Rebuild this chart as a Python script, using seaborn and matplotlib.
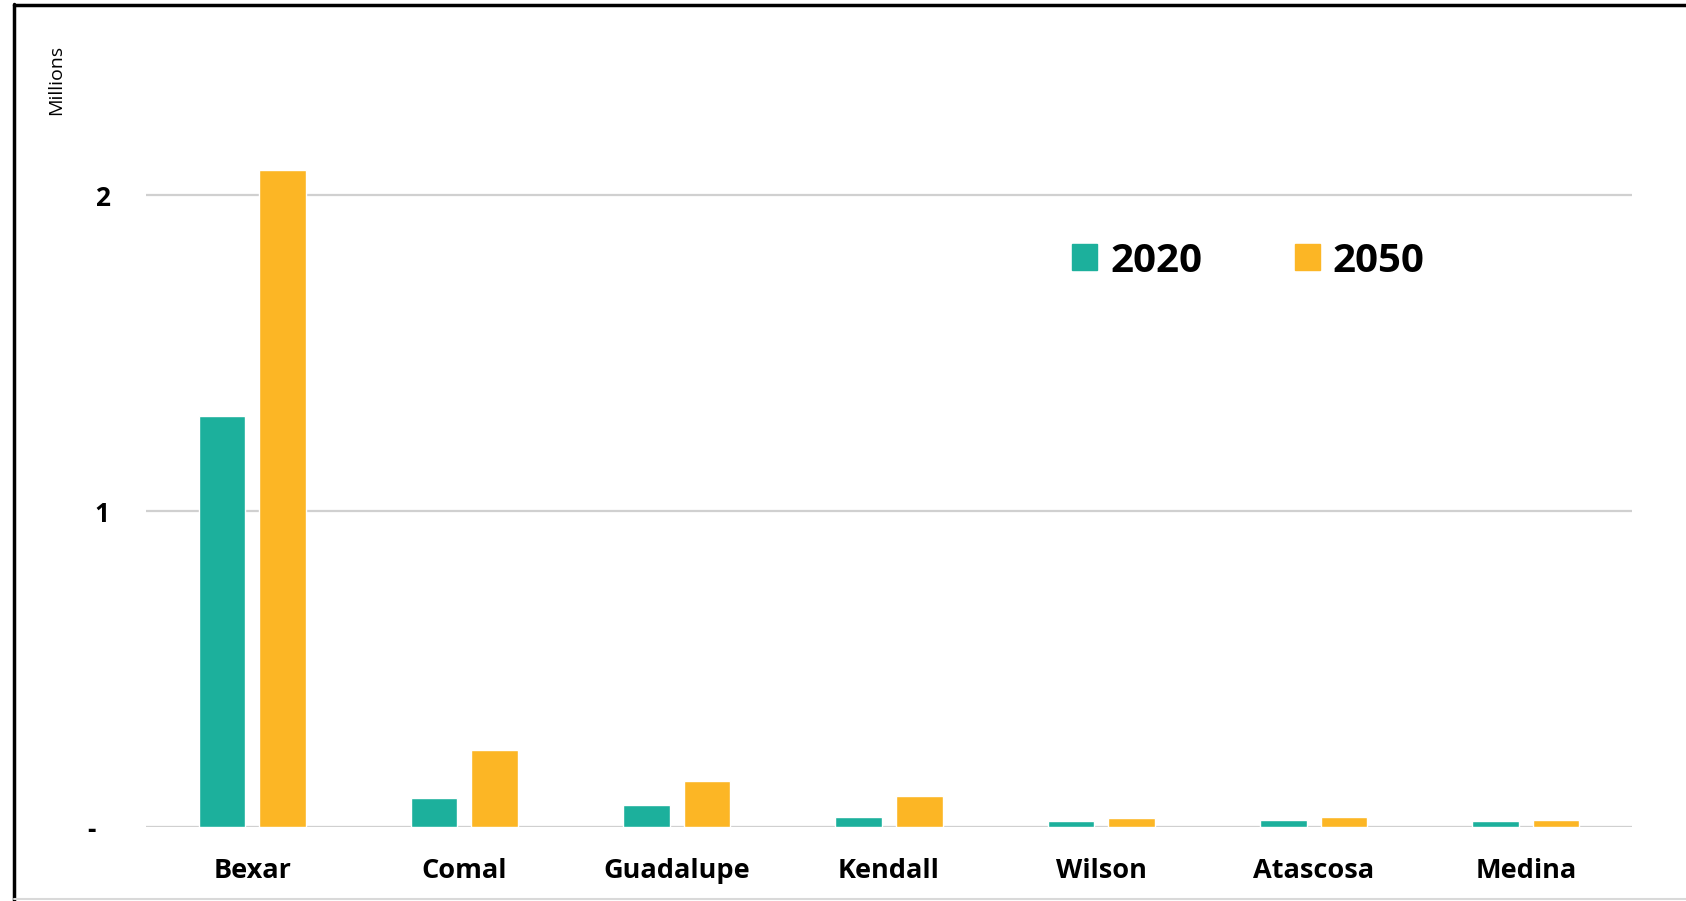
import matplotlib
matplotlib.use("Agg")
import matplotlib.pyplot as plt
import seaborn as sns
import pandas as pd
from matplotlib.patches import Rectangle
from matplotlib.lines import Line2D

counties = ["Bexar", "Comal", "Guadalupe", "Kendall", "Wilson", "Atascosa", "Medina"]
pop_2020 = [1.30, 0.092, 0.071, 0.033, 0.018, 0.021, 0.018]
pop_2050 = [2.08, 0.244, 0.147, 0.098, 0.029, 0.032, 0.021]
years = ["2020", "2050"]
colors = ["#1CB09C", "#FCB625"]
ytick_vals = [0, 1, 2]
ytick_labels = ["-  ", "1", "2"]

df = pd.DataFrame({
    "County": counties * 2,
    "Year": [years[0]] * len(counties) + [years[1]] * len(counties),
    "Pop": pop_2020 + pop_2050,
})

sns.set_theme(style="white")
plt.rcParams["font.family"] = ["Open Sans", "DejaVu Sans"]
plt.rcParams["text.color"] = "black"

W, H = 1686, 901
fig = plt.figure(figsize=(W / 100, H / 100), dpi=100)
ax_left, ax_right = 146, 1632
zero_y = 827
unit = 316.0
ymax = 2.3
ax_top = zero_y - ymax * unit
ax = fig.add_axes([ax_left / W, 1 - zero_y / H, (ax_right - ax_left) / W, (zero_y - ax_top) / H])

sns.barplot(data=df, x="County", y="Pop", hue="Year", palette=colors,
            width=0.57, gap=0.23, ax=ax, legend=False, saturation=1)

ax.set_xlim(-0.5, len(counties) - 0.5)
ax.set_ylim(0, ymax)
ax.set_yticks(ytick_vals)
ax.set_yticklabels(ytick_labels)
ax.set_xlabel("")
ax.set_ylabel("")
for s in ax.spines.values():
    s.set_visible(False)
ax.grid(axis="y", color="#D0D0D0", linewidth=1.6, zorder=0)
ax.set_axisbelow(True)
ax.axhline(0, color="#D9D9D9", linewidth=2.2, zorder=0)
ax.tick_params(axis="y", length=0, pad=26, labelsize=19)
ax.tick_params(axis="x", length=0, pad=22, labelsize=19.5)
for lab in ax.get_xticklabels() + ax.get_yticklabels():
    lab.set_fontweight("bold")
    lab.set_color("black")

fig.text(56 / W, 1 - 80 / H, "Millions", rotation=90, ha="center", va="center",
         fontsize=14, color="black")

handles = [Rectangle((0, 0), 1, 1, color=c) for c in colors]
leg = fig.legend(handles, years, loc="center left", bbox_to_anchor=(1036 / W, 1 - 261 / H),
                 ncol=2, frameon=False, prop={"weight": "bold", "size": 29},
                 handlelength=0.62, handleheight=0.62, handletextpad=0.32, columnspacing=2.3)
for t in leg.get_texts():
    t.set_color("black")

# outer border (left, top) and bottom light line
fig.add_artist(Line2D([13.5 / W, 13.5 / W], [0, 1 - 4 / H], transform=fig.transFigure,
                      color="black", linewidth=2.5))
fig.add_artist(Line2D([13.5 / W, 1], [1 - 5 / H, 1 - 5 / H], transform=fig.transFigure,
                      color="black", linewidth=2.5))
fig.add_artist(Line2D([13.5 / W, 1], [1 - 899 / H, 1 - 899 / H], transform=fig.transFigure,
                      color="#D9D9D9", linewidth=1.5))

fig.savefig("out.png", dpi=100, facecolor="white")
